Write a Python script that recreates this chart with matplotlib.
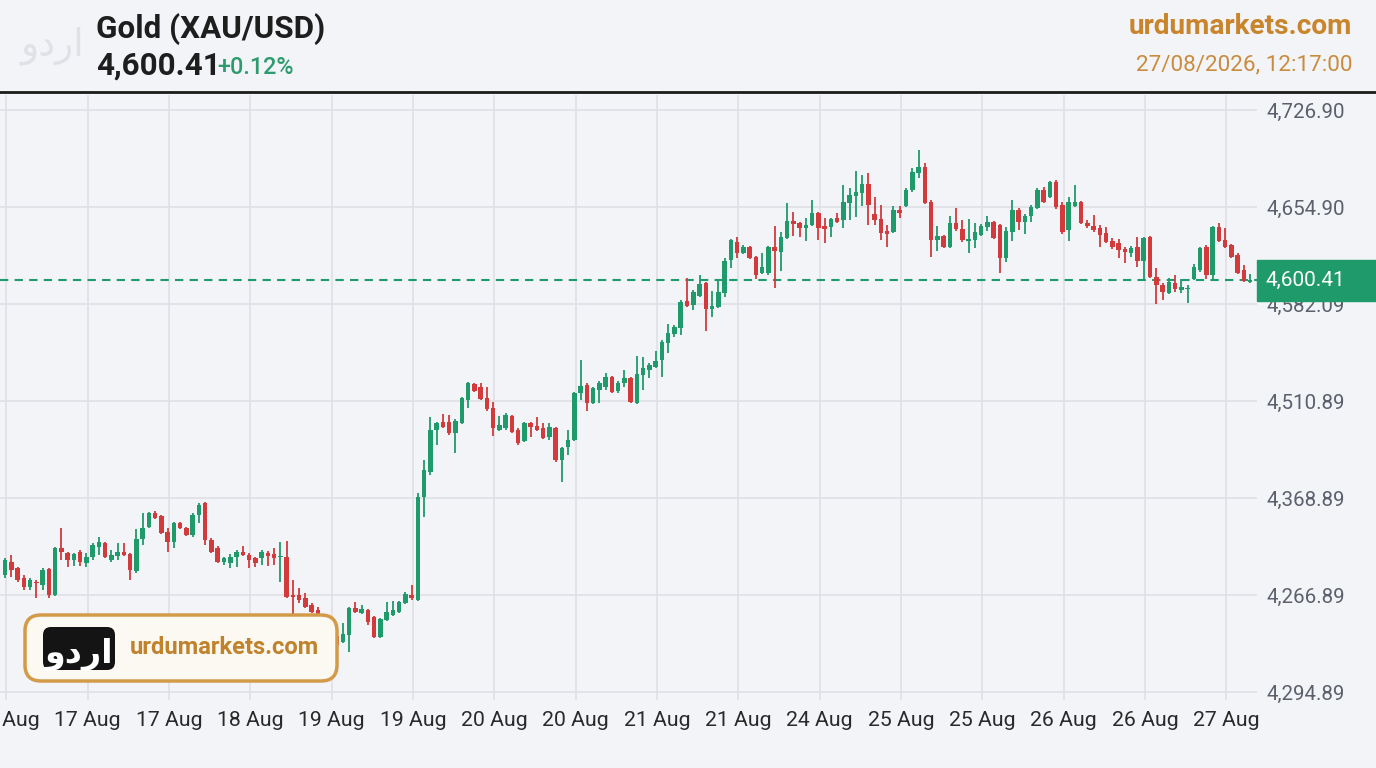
import numpy as np
import matplotlib.pyplot as plt
from matplotlib.patches import FancyBboxPatch, Rectangle

plt.rcParams['font.family'] = ['Roboto', 'DejaVu Sans']

# candles (price units), one per bar, left to right
opens = [
    4381.8, 4391.4, 4387.0, 4379.6, 4372.9, 4376.6, 4374.4, 4386.2, 4366.9, 4401.8,
    4398.1, 4392.9, 4398.9, 4390.7, 4395.1, 4402.6, 4405.5, 4392.9, 4395.9, 4398.9,
    4397.4, 4384.7, 4408.5, 4417.4, 4427.8, 4425.6, 4413.7, 4406.3, 4420.4, 4416.7,
    4411.5, 4426.3, 4435.2, 4407.8, 4401.8, 4391.4, 4390.7, 4395.1, 4398.9, 4396.6,
    4394.4, 4394.4, 4398.1, 4397.4, 4395.1, 4395.1, 4366.9, 4366.9, 4364.7, 4359.5,
    4355.8, 4350.6, 4343.2, 4336.5, 4332.0, 4337.2, 4357.3, 4353.6, 4355.8, 4350.6,
    4335.7, 4348.4, 4352.1, 4354.3, 4361.0, 4366.9, 4363.2, 4439.7, 4458.2, 4489.4,
    4495.3, 4495.3, 4487.2, 4494.6, 4511.7, 4523.6, 4521.3, 4513.2, 4505.7, 4489.4,
    4490.9, 4499.8, 4489.4, 4481.2, 4494.6, 4492.4, 4490.9, 4484.2, 4490.9, 4467.1,
    4476.8, 4482.0, 4516.9, 4522.8, 4509.5, 4519.1, 4521.3, 4528.8, 4518.4, 4524.3,
    4528.0, 4509.5, 4530.2, 4534.0, 4536.2, 4541.4, 4554.0, 4560.7, 4565.1, 4585.2,
    4582.2, 4588.9, 4598.5, 4579.2, 4580.7, 4591.1, 4615.6, 4629.0, 4620.8, 4625.3,
    4617.8, 4605.9, 4605.9, 4625.3, 4621.5, 4632.0, 4644.6, 4643.1, 4639.4, 4641.6,
    4650.5, 4640.8, 4640.1, 4646.8, 4645.3, 4657.9, 4663.1, 4665.3, 4672.0, 4649.8,
    4646.0, 4637.1, 4636.4, 4652.7, 4655.7, 4667.6, 4680.2, 4684.6, 4658.6, 4630.5,
    4633.5, 4625.3, 4643.1, 4638.6, 4629.7, 4630.5, 4634.2, 4640.1, 4643.8, 4641.6,
    4617.1, 4636.4, 4652.7, 4643.8, 4648.3, 4654.2, 4667.6, 4662.4, 4673.5, 4656.4,
    4637.9, 4655.7, 4658.6, 4643.1, 4640.8, 4639.4, 4635.6, 4629.7, 4628.2, 4623.8,
    4620.8, 4625.3, 4614.9, 4632.7, 4603.0, 4597.0, 4591.1, 4598.5, 4593.3, 4594.1,
    4601.5, 4608.2, 4625.3, 4604.4, 4640.1, 4630.5, 4626.7, 4619.3, 4608.2, 4599.2,
]
highs = [
    4394.4, 4396.6, 4387.7, 4381.8, 4379.6, 4378.1, 4387.0, 4387.0, 4402.6, 4416.7,
    4398.9, 4398.1, 4400.3, 4398.1, 4405.5, 4410.0, 4406.3, 4400.3, 4405.5, 4405.5,
    4398.1, 4415.9, 4427.8, 4428.5, 4429.3, 4426.3, 4416.7, 4421.1, 4421.1, 4417.4,
    4427.8, 4435.2, 4436.0, 4409.2, 4403.3, 4395.1, 4397.4, 4400.3, 4403.3, 4398.1,
    4395.1, 4400.3, 4399.6, 4401.8, 4406.3, 4407.0, 4378.1, 4372.1, 4368.4, 4361.0,
    4358.0, 4352.8, 4344.7, 4337.2, 4346.1, 4358.0, 4361.7, 4359.5, 4356.5, 4351.3,
    4349.9, 4361.7, 4362.5, 4362.5, 4369.2, 4374.4, 4442.6, 4467.1, 4499.1, 4495.3,
    4501.3, 4500.5, 4497.6, 4513.9, 4525.0, 4524.3, 4524.3, 4521.3, 4510.2, 4499.8,
    4502.0, 4500.5, 4490.9, 4495.3, 4495.0, 4499.1, 4494.6, 4494.6, 4491.6, 4476.8,
    4489.4, 4517.5, 4541.4, 4524.3, 4521.3, 4525.8, 4531.7, 4529.5, 4525.8, 4534.0,
    4528.8, 4544.3, 4543.6, 4539.1, 4548.1, 4556.2, 4568.1, 4567.4, 4585.9, 4602.2,
    4593.3, 4604.4, 4599.3, 4592.6, 4600.8, 4617.1, 4631.2, 4632.7, 4626.7, 4626.0,
    4618.6, 4620.8, 4626.0, 4640.8, 4636.4, 4657.9, 4651.2, 4643.8, 4646.8, 4660.1,
    4651.2, 4646.8, 4646.8, 4650.5, 4671.3, 4669.0, 4681.7, 4678.7, 4680.2, 4662.4,
    4656.4, 4641.6, 4655.7, 4655.7, 4669.0, 4683.9, 4697.3, 4687.6, 4660.1, 4640.8,
    4634.2, 4648.3, 4654.2, 4645.3, 4646.0, 4643.1, 4642.3, 4648.3, 4644.6, 4642.3,
    4640.1, 4660.1, 4654.2, 4649.8, 4656.4, 4669.0, 4669.8, 4674.2, 4675.0, 4658.6,
    4662.4, 4671.3, 4659.4, 4645.3, 4649.0, 4641.6, 4640.1, 4632.0, 4631.2, 4625.3,
    4626.0, 4632.7, 4632.7, 4633.5, 4609.7, 4598.5, 4602.2, 4604.4, 4601.5, 4597.0,
    4612.6, 4625.3, 4626.7, 4640.8, 4643.1, 4639.4, 4627.5, 4620.8, 4611.9, 4605.2,
]
lows = [
    4379.6, 4380.3, 4376.6, 4370.6, 4370.6, 4364.7, 4370.6, 4364.7, 4366.2, 4392.9,
    4387.7, 4388.5, 4388.5, 4387.7, 4392.9, 4396.6, 4394.4, 4391.4, 4392.9, 4395.9,
    4378.1, 4383.3, 4404.0, 4416.7, 4423.3, 4412.2, 4398.9, 4401.8, 4415.9, 4410.8,
    4410.0, 4420.4, 4404.0, 4398.1, 4390.7, 4389.2, 4387.0, 4387.7, 4395.9, 4387.0,
    4387.7, 4389.2, 4388.5, 4389.2, 4376.6, 4364.7, 4348.4, 4361.0, 4357.3, 4353.6,
    4348.4, 4341.0, 4332.8, 4327.6, 4331.3, 4324.6, 4353.6, 4352.8, 4344.7, 4335.0,
    4335.0, 4347.6, 4351.3, 4353.6, 4360.3, 4363.2, 4362.5, 4424.8, 4456.0, 4478.3,
    4490.9, 4485.7, 4472.3, 4493.9, 4505.7, 4517.6, 4511.7, 4503.5, 4485.0, 4488.7,
    4489.4, 4487.2, 4478.3, 4480.5, 4484.2, 4488.7, 4482.7, 4482.0, 4465.7, 4450.8,
    4470.9, 4481.2, 4511.7, 4503.5, 4508.7, 4509.5, 4519.1, 4516.9, 4516.9, 4521.3,
    4509.5, 4508.7, 4519.1, 4528.0, 4535.4, 4528.8, 4546.6, 4558.4, 4559.9, 4580.7,
    4578.5, 4588.1, 4562.9, 4573.3, 4580.0, 4588.1, 4609.7, 4617.1, 4620.1, 4616.3,
    4601.5, 4605.2, 4604.4, 4594.8, 4607.4, 4631.2, 4633.5, 4632.7, 4629.7, 4640.8,
    4630.5, 4628.2, 4632.7, 4643.1, 4639.4, 4645.3, 4647.5, 4655.7, 4641.6, 4641.6,
    4630.5, 4625.3, 4635.6, 4646.8, 4654.9, 4666.1, 4676.5, 4657.2, 4617.8, 4622.3,
    4624.5, 4624.5, 4637.1, 4629.0, 4620.8, 4624.5, 4633.5, 4637.1, 4631.2, 4605.9,
    4614.1, 4629.7, 4637.9, 4634.9, 4643.8, 4653.4, 4657.9, 4661.6, 4653.4, 4634.9,
    4629.7, 4654.9, 4642.3, 4639.4, 4636.4, 4625.3, 4628.2, 4623.8, 4617.1, 4613.4,
    4617.8, 4610.4, 4601.5, 4602.2, 4582.9, 4585.9, 4590.4, 4591.8, 4591.1, 4583.7,
    4600.8, 4606.7, 4601.5, 4601.5, 4629.0, 4624.5, 4617.1, 4605.2, 4599.3, 4598.5,
]
closes = [
    4392.9, 4385.5, 4378.1, 4372.9, 4378.1, 4375.8, 4385.5, 4366.9, 4401.8, 4398.9,
    4392.9, 4397.4, 4391.4, 4395.1, 4404.0, 4406.3, 4395.1, 4396.6, 4398.9, 4396.6,
    4385.5, 4408.5, 4416.7, 4427.8, 4424.1, 4412.9, 4406.3, 4420.4, 4416.7, 4411.5,
    4426.3, 4433.7, 4407.8, 4398.9, 4391.4, 4394.4, 4395.1, 4398.9, 4396.6, 4392.9,
    4390.7, 4398.9, 4395.9, 4394.4, 4395.9, 4365.4, 4365.4, 4363.2, 4358.0, 4354.3,
    4350.6, 4343.2, 4334.3, 4329.8, 4338.0, 4357.3, 4354.3, 4356.5, 4346.9, 4335.7,
    4349.1, 4354.3, 4355.8, 4361.7, 4367.7, 4364.7, 4439.7, 4459.7, 4489.4, 4494.6,
    4491.6, 4487.2, 4496.1, 4513.2, 4524.3, 4518.4, 4512.4, 4505.0, 4490.9, 4493.1,
    4500.5, 4487.9, 4479.8, 4494.6, 4491.6, 4489.4, 4483.5, 4491.6, 4467.1, 4476.1,
    4482.0, 4516.9, 4522.1, 4509.5, 4520.6, 4524.3, 4528.8, 4517.6, 4524.3, 4528.0,
    4510.2, 4531.0, 4535.4, 4537.7, 4540.6, 4554.7, 4561.4, 4565.9, 4584.4, 4581.5,
    4591.8, 4597.8, 4579.2, 4581.5, 4591.8, 4614.9, 4630.5, 4620.8, 4625.3, 4617.1,
    4604.4, 4610.4, 4625.3, 4622.3, 4632.7, 4644.6, 4642.3, 4639.4, 4641.6, 4650.5,
    4639.4, 4638.6, 4646.0, 4643.8, 4658.6, 4663.8, 4666.1, 4672.0, 4656.4, 4645.3,
    4635.6, 4634.9, 4652.7, 4650.5, 4667.6, 4680.9, 4684.6, 4657.9, 4630.5, 4633.5,
    4625.3, 4643.1, 4638.6, 4630.5, 4631.2, 4636.4, 4640.8, 4643.8, 4632.0, 4617.1,
    4637.1, 4652.7, 4643.8, 4648.3, 4654.9, 4667.6, 4658.6, 4673.5, 4654.9, 4636.4,
    4658.6, 4658.6, 4643.1, 4640.8, 4637.9, 4634.2, 4629.0, 4625.3, 4623.0, 4621.5,
    4624.5, 4614.9, 4632.0, 4603.0, 4597.0, 4591.8, 4599.3, 4594.1, 4595.6, 4594.8,
    4610.4, 4624.5, 4604.4, 4640.1, 4629.7, 4625.3, 4617.8, 4605.9, 4600.0, 4600.41,
]

date_labels = ['16 Aug', '17 Aug', '17 Aug', '18 Aug', '19 Aug', '19 Aug', '20 Aug', '20 Aug',
               '21 Aug', '21 Aug', '24 Aug', '25 Aug', '25 Aug', '26 Aug', '26 Aug', '27 Aug']
bars_per_label = 13
first_label_bar = 0.2

# the picture's price scale: gridlines are 72 apart, labels as printed
price_ticks = [4726.9, 4654.9, 4582.9, 4510.9, 4438.9, 4366.9, 4294.9]
price_tick_labels = ['4,726.90', '4,654.90', '4,582.09', '4,510.89',
                     '4,368.89', '4,266.89', '4,294.89']

title = 'Gold (XAU/USD)'
last_price = closes[-1]
change_pct = '+0.12%'
site = 'urdumarkets.com'
stamp = '27/08/2026, 12:17:00'
urdu = 'اردو'

BG = '#f3f4f8'
GREEN = '#1f9a6b'
RED = '#d23a3c'
GRID = '#dfe0e6'
ORANGE = '#c8852b'

W, H = 1376, 768
fig = plt.figure(figsize=(W / 100, H / 100), dpi=100)
fig.patch.set_facecolor(BG)

# main chart area: x 0..1257 px, y 95..700 px
ax = fig.add_axes([0, 1 - 700 / H, 1257 / W, 605 / H])
ax.set_facecolor(BG)

o = np.array(opens)
h = np.array(highs)
l = np.array(lows)
c = np.array(closes)
idx = np.arange(len(o))
colors = np.where(c >= o, GREEN, RED)

ax.vlines(idx, l, h, colors=colors, lw=1.3, zorder=3)
ax.bar(idx, np.maximum(np.abs(c - o), 0.9), bottom=np.minimum(o, c),
       width=0.72, color=colors, zorder=4)

ax.axhline(last_price, color=GREEN, lw=1.5, ls=(0, (4, 3)), zorder=2.6)

ax.set_xlim(-0.8, 200.1)
ax.set_ylim(4289.0, 4738.1)

label_pos = first_label_bar + bars_per_label * np.arange(len(date_labels))
ax.set_xticks(label_pos)
ax.set_xticklabels(date_labels)
ax.set_yticks(price_ticks)
ax.set_yticklabels(price_tick_labels)
ax.yaxis.tick_right()
ax.grid(True, color=GRID, lw=1.2)
ax.set_axisbelow(True)
for s in ax.spines.values():
    s.set_visible(False)
ax.tick_params(length=0)
ax.tick_params(axis='x', pad=8, labelsize=15.3, labelcolor='#2a2a2a')
ax.tick_params(axis='y', pad=7, labelsize=14.8, labelcolor='#5b606c')

# price badge on the right scale
ytr = ax.get_yaxis_transform()
ax.add_patch(Rectangle((1.0, last_price - 15.5), 119 / 1257, 31, transform=ytr,
                       color=GREEN, clip_on=False, zorder=6))
ax.text(1.0 + 9 / 1257, last_price, f'{last_price:,.2f}', transform=ytr,
        color='white', fontsize=15, va='center', ha='left', zorder=7, clip_on=False)

# overlay in pixel units for header and logo
ov = fig.add_axes([0, 0, 1, 1])
ov.set_xlim(0, W)
ov.set_ylim(H, 0)
ov.axis('off')
ov.patch.set_alpha(0)

# matplotlib has no right-to-left layout, so the Urdu letters are fed in visual order
urdu_visual = urdu[::-1]

ov.text(52, 46, urdu_visual, family=['DejaVu Sans'], fontsize=27, color='#e0e1e6',
        ha='center', va='center')
ov.text(96, 29, title, fontsize=22.6, fontweight='bold', color='#1e1e1e', va='center')
ov.text(96, 66, f'{last_price:,.2f}', fontsize=22.6, fontweight='bold', color='#1e1e1e',
        va='center')
ov.text(217, 67, change_pct, fontsize=16.8, fontweight='medium', color='#2e9b6e',
        va='center')
ov.text(1352, 26, site, fontsize=20.2, fontweight='bold', color=ORANGE,
        ha='right', va='center')
ov.text(1352, 65, stamp, fontsize=16.2, color='#c98c3e', ha='right', va='center')
ov.plot([0, W], [92, 92], color='#1b1b1b', lw=2)

# logo card bottom left
ov.add_patch(FancyBboxPatch((25, 615), 312, 66, boxstyle='round,pad=0,rounding_size=16',
                            fc='#fcf8f2', ec='#d39a48', lw=2.5, zorder=5))
ov.add_patch(FancyBboxPatch((43, 627), 72, 43, boxstyle='round,pad=0,rounding_size=8',
                            fc='#141414', ec='none', zorder=6))
ov.text(79, 654, urdu_visual, family=['DejaVu Sans'], fontsize=24, fontweight='bold',
        color='white', ha='center', va='center', zorder=7)
ov.text(130, 648, site, fontsize=17.1, fontweight='bold', color='#c0822b',
        va='center', zorder=7)

fig.savefig('out.png', dpi=100, facecolor=BG)
